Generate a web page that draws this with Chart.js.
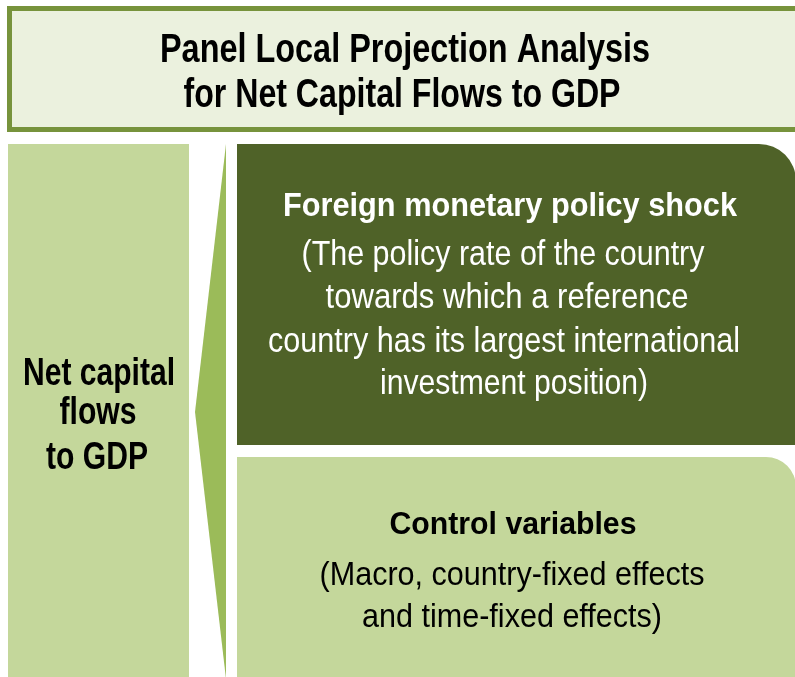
<!DOCTYPE html>
<html>
<head>
<meta charset="utf-8">
<script src="https://cdn.jsdelivr.net/npm/chart.js@4/dist/chart.umd.min.js"></script>
<style>
  html, body { margin: 0; padding: 0; background: #ffffff; }
  #wrap { width: 795px; height: 677px; position: relative; }
</style>
</head>
<body>
<div id="wrap"><canvas id="c"></canvas></div>
<script>
// ---- Diagram content (text) ----
const titleLines    = ["Panel Local Projection Analysis", "for Net Capital Flows to GDP"];
const outcomeLines  = ["Net capital", "flows", "to GDP"];
const shockHeading  = ["Foreign monetary policy shock"];
const shockLines    = ["(The policy rate of the country", "towards which a reference",
                       "country has its largest international", "investment position)"];
const controlHeading = ["Control variables"];
const controlLines   = ["(Macro, country-fixed effects", "and time-fixed effects)"];

// ---- Layout (diagram units, same as page pixels) ----
const panels = {
  title:   { x0: 9.5, x1: 810, y0: 8.5, y1: 129.5, fill: "#ebf1de", stroke: "#77933c", lw: 5 },
  outcome: { x0: 8, x1: 189, y0: 144, y1: 690, fill: "#c4d79b" },
  arrow:   { xr: 226, xl: 195, yt: 144, ym: 412, yb: 679, fill: "#9bbb59" },
  shock:   { x0: 237, x1: 796, y0: 144, y1: 445, r: 37, fill: "#4f6228" },
  control: { x0: 237, x1: 796, y0: 457, y1: 690, r: 30, fill: "#c4d79b" }
};
const FONT = '"Liberation Sans Narrow", "Arial Narrow", "Liberation Sans", Arial, sans-serif';
// per-line text placement: [centerX, baseline, fontSize, bold, targetWidth]
const titlePos   = [[405, 62, 41, true, 490], [402, 107, 41, true, 437]];
const outcomePos = [[99, 385, 38, true, 152], [98, 424, 38, true, 77], [97, 469, 38, true, 102]];
const shockHPos  = [[510, 216, 34, true, 454]];
const shockPos   = [[503, 265, 35, false, 403], [507, 308, 35, false, 363],
                    [504, 352, 35, false, 472], [514, 394, 35, false, 268]];
const ctrlHPos   = [[513, 534, 32, true, 247]];
const ctrlPos    = [[512, 585, 34, false, 385], [512, 627, 34, false, 300]];

const diagramPlugin = {
  id: 'diagram',
  beforeDatasetsDraw(chart) {
    const ctx = chart.ctx;
    const sx = chart.scales.x, sy = chart.scales.y;
    const X = v => sx.getPixelForValue(v);
    const Y = v => sy.getPixelForValue(v);

    ctx.save();
    // title box
    const t = panels.title;
    ctx.fillStyle = t.fill;
    ctx.fillRect(X(t.x0), Y(t.y0), X(t.x1) - X(t.x0), Y(t.y1) - Y(t.y0));
    ctx.strokeStyle = t.stroke; ctx.lineWidth = t.lw;
    ctx.strokeRect(X(t.x0), Y(t.y0), X(t.x1) - X(t.x0), Y(t.y1) - Y(t.y0));

    // outcome box
    const o = panels.outcome;
    ctx.fillStyle = o.fill;
    ctx.fillRect(X(o.x0), Y(o.y0), X(o.x1) - X(o.x0), Y(o.y1) - Y(o.y0));

    // arrow wedge
    const a = panels.arrow;
    ctx.fillStyle = a.fill;
    ctx.beginPath();
    ctx.moveTo(X(a.xr), Y(a.yt));
    ctx.lineTo(X(a.xl), Y(a.ym));
    ctx.lineTo(X(a.xr), Y(a.yb));
    ctx.closePath();
    ctx.fill();

    // rounded panels
    const rp = p => {
      const x0 = X(p.x0), x1 = X(p.x1), y0 = Y(p.y0), y1 = Y(p.y1), r = p.r;
      ctx.beginPath();
      ctx.moveTo(x0, y0);
      ctx.lineTo(x1 - r, y0);
      ctx.arcTo(x1, y0, x1, y0 + r, r);
      ctx.lineTo(x1, y1);
      ctx.lineTo(x0, y1);
      ctx.closePath();
      ctx.fillStyle = p.fill;
      ctx.fill();
    };
    rp(panels.shock);
    rp(panels.control);

    // texts
    const drawLines = (lines, pos, color) => {
      lines.forEach((s, i) => {
        const [cx, by, size, bold, tw] = pos[i];
        ctx.font = (bold ? 'bold ' : '') + size + 'px ' + FONT;
        const w = ctx.measureText(s).width;
        const k = tw / w;
        ctx.save();
        ctx.translate(X(cx), Y(by));
        ctx.scale(k, 1);
        ctx.fillStyle = color;
        ctx.textAlign = 'center';
        ctx.textBaseline = 'alphabetic';
        ctx.fillText(s, 0, 0);
        ctx.restore();
      });
    };
    drawLines(titleLines, titlePos, '#000000');
    drawLines(outcomeLines, outcomePos, '#000000');
    drawLines(shockHeading, shockHPos, '#ffffff');
    drawLines(shockLines, shockPos, '#ffffff');
    drawLines(controlHeading, ctrlHPos, '#000000');
    drawLines(controlLines, ctrlPos, '#000000');
    ctx.restore();
  }
};

new Chart(document.getElementById('c'), {
  type: 'scatter',
  data: { datasets: [{ data: [], pointRadius: 0 }] },
  options: {
    responsive: true,
    maintainAspectRatio: false,
    animation: false,
    layout: { padding: 0 },
    plugins: { legend: { display: false }, tooltip: { enabled: false } },
    scales: {
      x: { type: 'linear', min: 0, max: 795, display: false },
      y: { type: 'linear', min: 0, max: 677, reverse: true, display: false }
    }
  },
  plugins: [diagramPlugin]
});
</script>
</body>
</html>
